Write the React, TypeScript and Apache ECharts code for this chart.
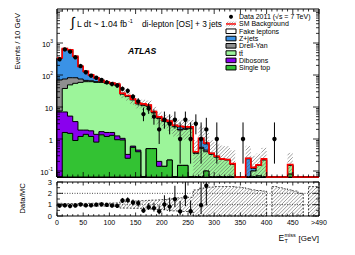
import { useEffect, useRef } from 'react';
import * as echarts from 'echarts';

// ---------------- data (Events / 10 GeV, bins of 10 GeV from 0 to 500, last = overflow) ----------------
const binLow = 0;
const binWidth = 10;
const nBins = 50;

const singleTop = [
  0, 1.6, 1.5, 0.9, 1.2, 1.4, 1.2, 0.8, 1.35, 1.2,
  1.3, 0.95, 0.93, 0.25, 0.55, 0.4, 0, 0.5, 0.5, 0.14,
  0.14, 0.22, 0, 0.15, 0.15, 0, 0, 0, 0.1, 0,
  0, 0, 0, 0, 0, 0, 0, 0, 0.07, 0,
  0, 0, 0, 0, 0.08, 0, 0, 0, 0, 0,
];
const dibosons = [
  7, 5.4, 3.7, 2.6, 0.7, 0.5, 0.6, 0.6, 0.35, 0.4,
  0.3, 0.3, 0.12, 0.08, 0.05, 0.05, 0, 0, 0, 0.06,
  0, 0, 0, 0, 0, 0, 0, 0, 0, 0,
  0, 0, 0, 0, 0, 0, 0, 0, 0, 0,
  0, 0, 0, 0, 0, 0, 0, 0, 0, 0,
];
const ttbar = [
  0.5, 31, 44, 51.5, 57, 60, 60, 57.5, 57, 53.5,
  50.5, 46, 24, 21, 16, 12, 11, 10, 6, 4.2,
  3.4, 3.0, 2.4, 1.75, 1.85, 2.1, 0.35, 0.5, 0.3, 0.33,
  0.27, 0.23, 0.22, 0.16, 0, 0, 0.05, 0.1, 0.08, 0.22,
  0, 0, 0, 0, 0.07, 0, 0, 0, 0, 0,
];
const drellYan = [
  62.5, 37, 33, 27, 16, 6, 4, 3, 2, 2,
  1, 1, 0.5, 0.5, 0.3, 0.3, 0.5, 0.3, 0.2, 0.1,
  0.1, 0.1, 0.05, 0.1, 0.1, 0.1, 0.02, 0.05, 0.05, 0.01,
  0.01, 0, 0, 0, 0, 0, 0.01, 0, 0, 0,
  0, 0, 0, 0, 0, 0, 0, 0, 0, 0,
];
const zJets = [
  260, 585, 518, 293, 105, 57, 32, 18, 5, 2,
  2, 2, 0.8, 0.5, 0.3, 0.3, 0.5, 0.2, 0.3, 0.2,
  0.2, 0.1, 0.05, 0.4, 0.1, 0.1, 0.01, 0.4, 0.25, 0.01,
  0, 0, 0, 0, 0, 0, 0.18, 0.02, 0, 0.01,
  0, 0, 0, 0, 0, 0, 0, 0, 0, 0,
];
const fakeLeptons = [
  10, 15, 12, 10, 6, 5, 3, 2, 2, 1,
  1, 2, 0.7, 0.5, 0.4, 0.3, 0.5, 0.5, 0.2, 0.2,
  0.1, 0.2, 0.2, 0.1, 0.2, 0.1, 0.02, 0.1, 0.05, 0.01,
  0.01, 0.01, 0.01, 0.01, 0.01, 0.01, 0.01, 0.01, 0.005, 0.01,
  0, 0.01, 0.01, 0.01, 0.01, 0.01, 0.01, 0, 0.01, 0.01,
];
const dataCounts = [
  310, 630, 535, 357, 190, 122, 95, 82, 70, 59,
  52, 47, 37, 32, 21, 15, 6, 9, 5, 2,
  4, 3, 4, 1, 4, 1, 3, 1, 2, 0,
  1, 0, 0, 0, 0, 1, 0, 0, 0, 0,
  0, 1, 0, 0, 0, 0, 0, 0, 0, 0,
];
const dataErrUp = [
  18, 25, 23, 19, 14, 11, 10, 9, 8.4, 7.7,
  7.2, 6.9, 6.1, 5.7, 4.6, 3.9, 3.6, 4.1, 3.4, 2.6,
  3.2, 2.9, 3.2, 2.3, 3.2, 2.3, 2.9, 2.3, 2.6, 0,
  2.3, 0, 0, 0, 0, 2.3, 0, 0, 0, 0,
  0, 2.3, 0, 0, 0, 0, 0, 0, 0, 0,
];
const dataErrDown = [
  18, 25, 23, 19, 14, 11, 10, 9, 8.4, 7.7,
  7.2, 6.9, 6.1, 5.7, 4.6, 3.9, 2.4, 2.9, 2.2, 1.3,
  1.9, 1.6, 1.9, 0.83, 1.9, 0.83, 1.6, 0.83, 1.3, 0,
  0.83, 0, 0, 0, 0, 0.83, 0, 0, 0, 0,
  0, 0.83, 0, 0, 0, 0, 0, 0, 0, 0,
];
// relative uncertainty of the SM background
const mcRelErr = [
  0.12, 0.1, 0.1, 0.1, 0.1, 0.11, 0.12, 0.12, 0.13, 0.13,
  0.14, 0.15, 0.3, 0.3, 0.32, 0.32, 0.35, 0.38, 0.4, 0.42,
  0.45, 0.5, 0.55, 0.6, 0.6, 0.65, 1.3, 1.45, 1.5, 1.55,
  1.6, 1.6, 1.6, 1.6, 1.55, 1.5, 1.4, 1.3, 1.25, 1.2,
  0, 1.6, 1.5, 1.4, 1.3, 1.2, 1.0, 0, 1.6, 1.6,
];

const xTickValues = [0, 50, 100, 150, 200, 250, 300, 350, 400, 450, 500];
const xTickLabels = ['0', '50', '100', '150', '200', '250', '300', '350', '400', '450', '>490'];
const mainYTickValues = [0.1, 1, 10, 100, 1000];
const mainYTickLabels = ['{b|10}{s|-1}', '{b|1}', '{b|10}', '{b|10}{s|2}', '{b|10}{s|3}'];

const componentNames = ['Single top', 'Dibosons', 'tt̄', 'Drell-Yan', 'Z+jets', 'Fake leptons'];
const componentValues = [singleTop, dibosons, ttbar, drellYan, zJets, fakeLeptons];
const componentColors = ['#33c233', '#8a00ee', '#9cf59a', '#8f8f8f', '#3a92e6', '#ffffff'];

const legendDataLabel = 'Data 2011 (√s = 7 TeV)';
const legendBkgLabel = 'SM Background';

// ---------------- layout ----------------
const FONT = '"Liberation Sans", Arial, Helvetica, sans-serif';
const Y_MIN = 0.065;
const Y_MAX = 11550;
const R_MIN = 0;
const R_MAX = 3;
const GRID_LEFT = 57;
const GRID_WIDTH = 262;
const MAIN_TOP = 9;
const MAIN_HEIGHT = 168;
const RATIO_TOP = 182;
const RATIO_HEIGHT = 34;

const edge = (i: number) => binLow + i * binWidth;
const clampY = (v: number) => Math.min(Math.max(v, Y_MIN), Y_MAX);
const clampR = (v: number) => Math.min(Math.max(v, R_MIN), R_MAX);

function cumulative(): number[][] {
  const res: number[][] = [];
  let run = new Array(nBins).fill(0);
  for (const c of componentValues) {
    run = run.map((v: number, i: number) => v + c[i]);
    res.push(run);
  }
  return res;
}
const cum = cumulative();
const total = cum[cum.length - 1];

const HATCH = { stroke: '#5a5a5a', lineWidth: 0.6 };

function hatch(x0: number, x1: number, yTop: number, yBot: number, s: number, style: any) {
  const out: any[] = [];
  if (x1 - x0 < 0.1 || yBot - yTop < 0.1) return out;
  const k0 = Math.ceil((x0 + yTop) / s);
  const k1 = Math.floor((x1 + yBot) / s);
  for (let k = k0; k <= k1; k++) {
    const c = k * s;
    const xa = Math.max(x0, c - yBot);
    const xb = Math.min(x1, c - yTop);
    if (xb - xa > 0.05) {
      out.push({ type: 'line', shape: { x1: xa, y1: c - xa, x2: xb, y2: c - xb }, style });
    }
  }
  return out;
}

const seg = (x1: number, y1: number, x2: number, y2: number, style: any) => ({
  type: 'line',
  shape: { x1, y1, x2, y2 },
  style,
});

function stepPoints(api: any, values: number[], clamp: (v: number) => number) {
  const pts: number[][] = [];
  for (let i = 0; i < nBins; i++) {
    const a = api.coord([edge(i), clamp(values[i])]);
    const b = api.coord([edge(i + 1), clamp(values[i])]);
    pts.push(a, b);
  }
  return pts;
}

function buildOption() {
  const tickStyle = { stroke: '#000', lineWidth: 0.8 };

  const stackSeries = {
    type: 'custom',
    xAxisIndex: 0,
    yAxisIndex: 0,
    silent: true,
    clip: false,
    z: 2,
    data: [[250, 1]],
    renderItem: (_p: any, api: any) => {
      const children: any[] = [];
      for (let k = cum.length - 1; k >= 0; k--) {
        const pts = stepPoints(api, cum[k], clampY);
        const first = api.coord([edge(0), Y_MIN]);
        const last = api.coord([edge(nBins), Y_MIN]);
        children.push({
          type: 'polygon',
          shape: { points: [first, ...pts, last] },
          style: { fill: componentColors[k], stroke: '#000', lineWidth: 1 },
        });
      }
      return { type: 'group', children };
    },
  };

  const bandSeries = {
    type: 'custom',
    xAxisIndex: 0,
    yAxisIndex: 0,
    silent: true,
    clip: false,
    z: 3,
    data: [[250, 1]],
    renderItem: (_p: any, api: any) => {
      const children: any[] = [];
      for (let i = 0; i < nBins; i++) {
        const T = total[i];
        const e = mcRelErr[i];
        if (T <= 0 || e <= 0) continue;
        const hi = clampY(T * (1 + e));
        const lo = clampY(T * (1 - e));
        if (hi <= Y_MIN) continue;
        const a = api.coord([edge(i), hi]);
        const b = api.coord([edge(i + 1), lo]);
        children.push(...hatch(a[0], b[0], a[1], b[1], 3.6, HATCH));
      }
      return { type: 'group', children };
    },
  };

  const totalLineSeries = {
    type: 'custom',
    xAxisIndex: 0,
    yAxisIndex: 0,
    silent: true,
    clip: false,
    z: 4,
    data: [[250, 1]],
    renderItem: (_p: any, api: any) => ({
      type: 'polyline',
      shape: { points: stepPoints(api, total, clampY) },
      style: { stroke: '#ff0000', lineWidth: 1.6, fill: 'none' },
    }),
  };

  const dataSeries = {
    type: 'custom',
    xAxisIndex: 0,
    yAxisIndex: 0,
    silent: true,
    clip: false,
    z: 5,
    data: [[250, 1]],
    renderItem: (_p: any, api: any) => {
      const children: any[] = [];
      for (let i = 0; i < nBins; i++) {
        const n = dataCounts[i];
        if (n <= 0) continue;
        const xc = edge(i) + binWidth / 2;
        const c = api.coord([xc, n]);
        const up = api.coord([xc, clampY(n + dataErrUp[i])]);
        const dn = api.coord([xc, clampY(n - dataErrDown[i])]);
        children.push(seg(c[0], up[1], c[0], dn[1], { stroke: '#000', lineWidth: 1 }));
        children.push({ type: 'circle', shape: { cx: c[0], cy: c[1], r: 2.2 }, style: { fill: '#000' } });
      }
      return { type: 'group', children };
    },
  };

  const mainFrameSeries = {
    type: 'custom',
    xAxisIndex: 0,
    yAxisIndex: 0,
    silent: true,
    clip: false,
    z: 6,
    data: [[250, 1]],
    renderItem: (params: any, api: any) => {
      const cs = params.coordSys;
      const L = cs.x, R = cs.x + cs.width, T = cs.y, B = cs.y + cs.height;
      const ch: any[] = [];
      for (let v = 0; v <= 500; v += 10) {
        const x = api.coord([v, 1])[0];
        const len = v % 50 === 0 ? 5 : 2.5;
        ch.push(seg(x, B, x, B - len, tickStyle), seg(x, T, x, T + len, tickStyle));
      }
      for (let e = -2; e <= 4; e++) {
        for (let m = 1; m <= 9; m++) {
          const v = m * Math.pow(10, e);
          if (v <= Y_MIN || v >= Y_MAX) continue;
          const y = api.coord([0, v])[1];
          const len = m === 1 ? 6 : 3;
          ch.push(seg(L, y, L + len, y, tickStyle), seg(R, y, R - len, y, tickStyle));
        }
      }
      mainYTickValues.forEach((v, j) => {
        const y = api.coord([0, v])[1];
        ch.push({
          type: 'text',
          style: {
            text: mainYTickLabels[j],
            x: L - 4,
            y: y + 0.5,
            align: 'right',
            verticalAlign: 'middle',
            fill: '#000',
            rich: {
              b: { fontSize: 7.5, fontFamily: FONT, lineHeight: 10, verticalAlign: 'bottom', fill: '#000' },
              s: { fontSize: 5, fontFamily: FONT, lineHeight: 6, verticalAlign: 'top', fill: '#000' },
            },
          },
        });
      });
      return { type: 'group', children: ch };
    },
  };

  const ratioBandSeries = {
    type: 'custom',
    xAxisIndex: 1,
    yAxisIndex: 1,
    silent: true,
    clip: false,
    z: 3,
    data: [[250, 1]],
    renderItem: (_p: any, api: any) => {
      const children: any[] = [];
      const has = (i: number) => total[i] > 0 && mcRelErr[i] > 0;
      for (let i = 0; i < nBins; i++) {
        if (!has(i)) continue;
        const a = api.coord([edge(i), clampR(1 + mcRelErr[i])]);
        const b = api.coord([edge(i + 1), clampR(1 - mcRelErr[i])]);
        children.push(...hatch(a[0], b[0], a[1], b[1], 3.6, HATCH));
      }
      // dashed outline per contiguous segment
      let i = 0;
      while (i < nBins) {
        if (!has(i)) { i++; continue; }
        let j = i;
        while (j + 1 < nBins && has(j + 1)) j++;
        const top: number[][] = [];
        const bot: number[][] = [];
        for (let k = i; k <= j; k++) {
          top.push(api.coord([edge(k), clampR(1 + mcRelErr[k])]), api.coord([edge(k + 1), clampR(1 + mcRelErr[k])]));
          bot.push(api.coord([edge(k), clampR(1 - mcRelErr[k])]), api.coord([edge(k + 1), clampR(1 - mcRelErr[k])]));
        }
        children.push({
          type: 'polygon',
          shape: { points: [...top, ...bot.reverse()] },
          style: { fill: 'none', stroke: '#000', lineWidth: 0.7, lineDash: [2, 1.5] },
        });
        i = j + 1;
      }
      return { type: 'group', children };
    },
  };

  const ratioDataSeries = {
    type: 'custom',
    xAxisIndex: 1,
    yAxisIndex: 1,
    silent: true,
    clip: false,
    z: 5,
    data: [[250, 1]],
    renderItem: (params: any, api: any) => {
      const cs = params.coordSys;
      const L = cs.x, R = cs.x + cs.width;
      const children: any[] = [];
      [1, 2].forEach((v) => {
        const y = api.coord([0, v])[1];
        children.push(seg(L, y, R, y, { stroke: '#000', lineWidth: 0.7, lineDash: [1, 1.5] }));
      });
      for (let i = 0; i < nBins; i++) {
        const n = dataCounts[i];
        const T = total[i];
        if (n <= 0 || T <= 0) continue;
        const r = n / T;
        if (r > R_MAX) continue;
        const xc = edge(i) + binWidth / 2;
        const c = api.coord([xc, r]);
        const up = api.coord([xc, clampR((n + dataErrUp[i]) / T)]);
        const dn = api.coord([xc, clampR((n - dataErrDown[i]) / T)]);
        children.push(seg(c[0], up[1], c[0], dn[1], { stroke: '#000', lineWidth: 1 }));
        children.push({ type: 'circle', shape: { cx: c[0], cy: c[1], r: 2.2 }, style: { fill: '#000' } });
      }
      return { type: 'group', children };
    },
  };

  const ratioFrameSeries = {
    type: 'custom',
    xAxisIndex: 1,
    yAxisIndex: 1,
    silent: true,
    clip: false,
    z: 6,
    data: [[250, 1]],
    renderItem: (params: any, api: any) => {
      const cs = params.coordSys;
      const L = cs.x, R = cs.x + cs.width, T = cs.y, B = cs.y + cs.height;
      const ch: any[] = [];
      for (let v = 0; v <= 500; v += 10) {
        const x = api.coord([v, 1])[0];
        const len = v % 50 === 0 ? 3.5 : 1.8;
        ch.push(seg(x, B, x, B - len, tickStyle), seg(x, T, x, T + len, tickStyle));
      }
      for (let v = 0; v <= 3.001; v += 0.5) {
        const y = api.coord([0, v])[1];
        const len = Math.abs(v - Math.round(v)) < 1e-6 ? 6 : 3;
        ch.push(seg(L, y, L + len, y, tickStyle), seg(R, y, R - len, y, tickStyle));
      }
      return { type: 'group', children: ch };
    },
  };

  // ---------- static texts & legend ----------
  const txt = (text: string, x: number, y: number, size: number, extra: any = {}) => ({
    type: 'text',
    x,
    y,
    silent: true,
    style: { text, fontSize: size, fontFamily: FONT, fill: '#000', verticalAlign: 'middle', ...extra },
  });

  const legendX = 226;
  const legendTextX = 239;
  const rowY = (j: number) => 16.7 + j * 7.28;
  const legendEls: any[] = [];
  legendEls.push({ type: 'circle', silent: true, shape: { cx: 231, cy: rowY(0), r: 2 }, style: { fill: '#000' } });
  legendEls.push(txt(legendDataLabel, legendTextX, rowY(0), 7));
  // SM background: hatched box with red line
  const by = rowY(1);
  hatch(legendX, legendX + 10, by - 2.4, by + 2.4, 2.5, { stroke: '#777', lineWidth: 0.6 }).forEach((h) =>
    legendEls.push({ ...h, silent: true })
  );
  legendEls.push({ type: 'line', silent: true, shape: { x1: legendX, y1: by, x2: legendX + 10, y2: by }, style: { stroke: '#ff0000', lineWidth: 1.4 } });
  legendEls.push(txt(legendBkgLabel, legendTextX, by, 7));
  const boxOrder = [5, 4, 3, 2, 1, 0];
  boxOrder.forEach((k, j) => {
    const y = rowY(j + 2);
    legendEls.push({
      type: 'rect',
      silent: true,
      shape: { x: legendX, y: y - 2.3, width: 10, height: 4.6 },
      style: { fill: componentColors[k], stroke: '#000', lineWidth: 1 },
    });
    legendEls.push(txt(componentNames[k], legendTextX, y, 7));
  });

  const graphic: any[] = [
    // y titles
    txt('Events / 10 GeV', 17, 13, 7.8, { align: 'right' }),
    txt('Data/MC', 22, 183, 7.8, { align: 'right' }),
    // x title
    txt('E', 278.5, 238, 8.5),
    txt('miss', 284.5, 235, 5.5),
    txt('T', 284.5, 241, 5.5),
    txt('[GeV]', 319, 238, 8, { align: 'right' }),
    // annotations
    txt('∫', 71, 22, 14),
    txt('L dt ~ 1.04 fb', 77, 24, 8.6),
    txt('-1', 128, 20.5, 5.5),
    txt('di-lepton [OS] + 3 jets', 142, 24, 8.3),
    txt('ATLAS', 128, 51, 8.7, { fontWeight: 'bold', fontStyle: 'italic' }),
    ...legendEls,
  ];
  // rotate the y titles
  graphic[0].rotation = Math.PI / 2;
  graphic[1].rotation = Math.PI / 2;

  return {
    animation: false,
    backgroundColor: '#fff',
    grid: [
      { left: GRID_LEFT, top: MAIN_TOP, width: GRID_WIDTH, height: MAIN_HEIGHT, show: true, borderColor: '#000', borderWidth: 1, backgroundColor: 'transparent', containLabel: false },
      { left: GRID_LEFT, top: RATIO_TOP, width: GRID_WIDTH, height: RATIO_HEIGHT, show: true, borderColor: '#000', borderWidth: 1, backgroundColor: 'transparent', containLabel: false },
    ],
    xAxis: [
      {
        type: 'value', gridIndex: 0, min: 0, max: 500, interval: 50,
        axisLine: { show: false }, axisTick: { show: false }, axisLabel: { show: false }, splitLine: { show: false },
      },
      {
        type: 'value', gridIndex: 1, min: 0, max: 500, interval: 50,
        axisLine: { show: false }, axisTick: { show: false }, splitLine: { show: false },
        axisLabel: {
          show: true, fontSize: 7, fontFamily: FONT, color: '#000', margin: 3,
          formatter: (v: number) => {
            const idx = xTickValues.indexOf(Math.round(v));
            return idx >= 0 ? xTickLabels[idx] : '';
          },
        },
      },
    ],
    yAxis: [
      {
        type: 'log', logBase: 10, gridIndex: 0, min: Y_MIN, max: Y_MAX,
        axisLine: { show: false }, axisTick: { show: false }, axisLabel: { show: false }, splitLine: { show: false },
      },
      {
        type: 'value', gridIndex: 1, min: 0, max: 3, interval: 1,
        axisLine: { show: false }, axisTick: { show: false }, splitLine: { show: false },
        axisLabel: { show: true, fontSize: 7.5, fontFamily: FONT, color: '#000', margin: 5 },
      },
    ],
    graphic,
    series: [stackSeries, bandSeries, totalLineSeries, dataSeries, mainFrameSeries, ratioBandSeries, ratioDataSeries, ratioFrameSeries],
  };
}

export default function App() {
  const ref = useRef<HTMLDivElement>(null);
  useEffect(() => {
    document.body.style.margin = '0';
    if (!ref.current) return;
    const chart = echarts.init(ref.current, undefined, { renderer: 'svg' });
    chart.setOption(buildOption() as any);
    return () => chart.dispose();
  }, []);
  return <div ref={ref} style={{ position: 'fixed', left: 0, top: 0, width: 355, height: 255 }} />;
}
